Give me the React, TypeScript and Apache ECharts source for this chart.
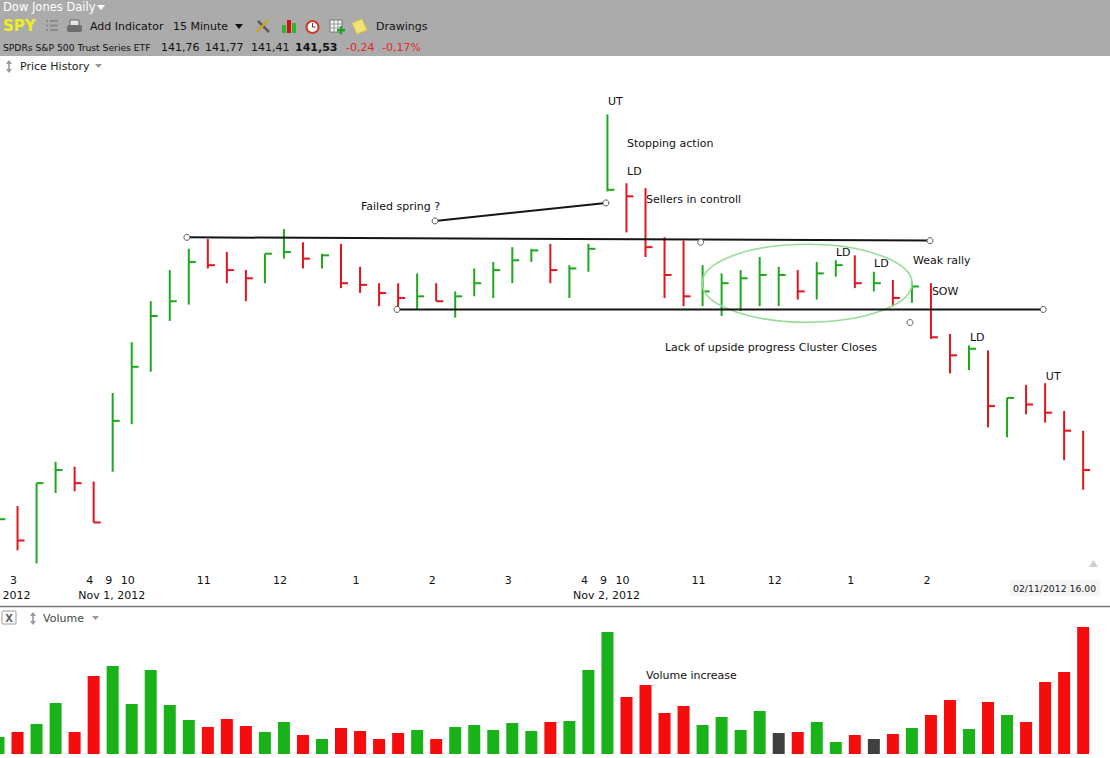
import React, { useEffect, useRef } from "react";
import * as echarts from "echarts";

// ---- Data (15-minute bars, SPY, Oct 31 14:45 -> Nov 2 16:00, 2012) ----
const highs = [141.32, 141.31, 141.45, 141.58, 141.55, 141.46, 142.0, 142.31, 142.56, 142.75, 142.88, 142.94, 142.86, 142.75, 142.85, 143.0, 142.92, 142.85, 142.91, 142.77, 142.67, 142.67, 142.73, 142.67, 142.62, 142.76, 142.8, 142.89, 142.88, 142.91, 142.78, 142.91, 143.7, 143.28, 143.25, 142.95, 142.93, 142.78, 142.73, 142.75, 142.83, 142.77, 142.75, 142.8, 142.81, 142.84, 142.74, 142.69, 142.68, 142.67, 142.36, 142.29, 142.26, 141.97, 142.05, 142.06, 141.89, 141.77];
const lows = [141.14, 141.04, 140.96, 141.39, 141.4, 141.21, 141.52, 141.81, 142.13, 142.44, 142.54, 142.76, 142.67, 142.56, 142.67, 142.82, 142.76, 142.76, 142.64, 142.61, 142.53, 142.51, 142.51, 142.56, 142.46, 142.59, 142.58, 142.67, 142.8, 142.67, 142.58, 142.74, 143.23, 142.98, 142.83, 142.58, 142.53, 142.53, 142.47, 142.5, 142.53, 142.53, 142.57, 142.57, 142.71, 142.64, 142.62, 142.53, 142.55, 142.33, 142.12, 142.14, 141.79, 141.73, 141.87, 141.82, 141.59, 141.41];
const closes = [141.23, 141.1, 141.45, 141.53, 141.45, 141.21, 141.83, 142.16, 142.47, 142.56, 142.8, 142.78, 142.75, 142.7, 142.85, 142.86, 142.82, 142.84, 142.67, 142.66, 142.61, 142.58, 142.59, 142.56, 142.59, 142.67, 142.75, 142.81, 142.87, 142.75, 142.76, 142.88, 143.24, 143.2, 142.89, 142.72, 142.59, 142.62, 142.67, 142.7, 142.72, 142.72, 142.62, 142.73, 142.78, 142.67, 142.67, 142.58, 142.65, 142.34, 142.23, 142.27, 141.92, 141.97, 141.93, 141.88, 141.77, 141.53];
// volume in millions of shares
const volumes = [1.36, 1.76, 2.4, 4.08, 1.76, 6.24, 7.04, 4.0, 6.72, 3.92, 2.72, 2.16, 2.8, 2.24, 1.76, 2.56, 1.52, 1.2, 2.08, 1.84, 1.2, 1.68, 1.92, 1.2, 2.16, 2.32, 1.92, 2.48, 1.84, 2.56, 2.64, 6.72, 9.76, 4.56, 5.52, 3.28, 3.84, 2.32, 2.96, 1.92, 3.44, 1.68, 1.76, 2.56, 0.96, 1.52, 1.2, 1.6, 2.08, 3.12, 4.32, 2.0, 4.16, 3.12, 2.56, 5.76, 6.56, 10.16];

// x-axis tick labels (bar index -> hour), and date labels
const tickIndex = [1, 5, 6, 7, 11, 15, 19, 23, 27, 31, 32, 33, 37, 41, 45, 49];
const tickHour = ["3", "4", "9", "10", "11", "12", "1", "2", "3", "4", "9", "10", "11", "12", "1", "2"];
const dateIndex = [1, 6, 32];
const dateText = ["2012", "Nov 1, 2012", "Nov 2, 2012"];

// drawings (bar index, price)
const resistanceLine = [[9.9, 142.95], [48.95, 142.93]];
const supportLine = [[20.94, 142.51], [54.9, 142.51]];
const springLine = [[22.94, 143.05], [31.92, 143.16]];
const looseMarkers = [[36.9, 142.92], [47.9, 142.43]];
const clusterCenter = [42.49, 142.67];
const clusterRadius = [5.52, 0.238];

const noteText = ["UT", "Stopping action", "LD", "Failed spring ?", "Sellers in controll", "LD", "LD", "Weak rally", "SOW", "Lack of upside progress Cluster Closes", "LD", "UT"];
const noteBar = [32.03, 33.03, 33.03, 19.05, 34.03, 44.01, 46.01, 48.06, 49.05, 35.02, 51.05, 55.04];
const notePrice = [143.78, 143.52, 143.35, 143.14, 143.18, 142.86, 142.79, 142.81, 142.62, 142.28, 142.34, 142.1];
const volumeNoteText = ["Volume increase"];
const volumeNoteBar = [34.03];
const volumeNoteValue = [6.32];

const quoteValues = ["141,76", "141,77", "141,41", "141,53"];
const quoteChange = ["-0,24", "-0,17%"];

const FONT = "DejaVu Sans";
const GREEN = "#1ea81e";
const RED = "#e3141c";
const VGREEN = "#19b319";
const VRED = "#f50d0d";
const VFLAT = "#404040";

function dirOf(i: number): number {
  if (i === 0) return 1;
  if (closes[i] > closes[i - 1]) return 1;
  if (closes[i] < closes[i - 1]) return -1;
  return 0;
}

function txt(x: number, y: number, text: string, o: any = {}) {
  return {
    type: "text",
    x,
    y,
    silent: true,
    style: {
      text,
      fill: o.fill || "#111",
      fontSize: o.size || 11,
      fontFamily: FONT,
      fontWeight: o.weight || "normal",
      verticalAlign: "middle",
      align: o.align || "left",
    },
  };
}

function tri(x: number, y: number, w: number, h: number, fill: string, up = false) {
  const pts = up
    ? [[x, y + h], [x + w, y + h], [x + w / 2, y]]
    : [[x, y], [x + w, y], [x + w / 2, y + h]];
  return { type: "polygon", silent: true, shape: { points: pts }, style: { fill } };
}

function updown(x: number, y: number) {
  return {
    type: "group",
    silent: true,
    children: [
      tri(x, y, 6, 4, "#999", true),
      { type: "rect", shape: { x: x + 2.2, y: y + 3, width: 1.6, height: 6 }, style: { fill: "#999" } },
      tri(x, y + 9, 6, 4, "#999"),
    ],
  };
}

function buildGraphic() {
  const g: any[] = [];
  g.push({ type: "rect", silent: true, shape: { x: 0, y: 0, width: 1110, height: 56 }, style: { fill: "#ababab" } });
  g.push(txt(3, 7, "Dow Jones Daily", { fill: "#ffffff", size: 11.5 }));
  g.push(tri(97, 5, 8, 5, "#ffffff"));
  g.push(txt(3, 26, "SPY", { fill: "#eeee22", size: 15, weight: "bold" }));
  // list icon
  [21, 25.5, 30].forEach((yy) => {
    g.push({ type: "rect", silent: true, shape: { x: 46, y: yy - 1, width: 2, height: 2 }, style: { fill: "#8a8a8a" } });
    g.push({ type: "rect", silent: true, shape: { x: 50, y: yy - 1, width: 8, height: 2 }, style: { fill: "#8a8a8a" } });
  });
  // printer icon
  g.push({ type: "rect", silent: true, shape: { x: 70, y: 20, width: 9, height: 6 }, style: { fill: "#e6e6e6", stroke: "#666", lineWidth: 1 } });
  g.push({ type: "rect", silent: true, shape: { x: 67, y: 25, width: 15, height: 7, r: 2 }, style: { fill: "#6d6d6d" } });
  g.push(txt(90, 26, "Add Indicator", { size: 11 }));
  g.push(txt(173, 26, "15 Minute", { size: 11 }));
  g.push(tri(235, 24, 8, 5, "#111"));
  // wrench / screwdriver
  g.push({ type: "line", silent: true, shape: { x1: 258, y1: 21, x2: 269, y2: 32 }, style: { stroke: "#5a5a5a", lineWidth: 2.5 } });
  g.push({ type: "line", silent: true, shape: { x1: 268, y1: 20, x2: 257, y2: 32 }, style: { stroke: "#c9a526", lineWidth: 2.5 } });
  // bar chart icon
  g.push({ type: "rect", silent: true, shape: { x: 282, y: 25, width: 4, height: 8 }, style: { fill: "#2cb82c" } });
  g.push({ type: "rect", silent: true, shape: { x: 287, y: 20, width: 4, height: 13 }, style: { fill: "#d01212" } });
  g.push({ type: "rect", silent: true, shape: { x: 292, y: 23, width: 4, height: 10 }, style: { fill: "#2cb82c" } });
  // clock icon
  g.push({ type: "circle", silent: true, shape: { cx: 312.5, cy: 27, r: 6 }, style: { fill: "#ffffff", stroke: "#d23a20", lineWidth: 2 } });
  g.push({ type: "line", silent: true, shape: { x1: 312.5, y1: 27, x2: 312.5, y2: 23 }, style: { stroke: "#444", lineWidth: 1 } });
  g.push({ type: "line", silent: true, shape: { x1: 312.5, y1: 27, x2: 315.5, y2: 27 }, style: { stroke: "#444", lineWidth: 1 } });
  // calendar icon
  g.push({ type: "rect", silent: true, shape: { x: 330, y: 20, width: 12, height: 12 }, style: { fill: "#f4f4f4", stroke: "#777", lineWidth: 1 } });
  [24, 28].forEach((yy) => g.push({ type: "line", silent: true, shape: { x1: 330, y1: yy, x2: 342, y2: yy }, style: { stroke: "#999", lineWidth: 1 } }));
  [334, 338].forEach((xx) => g.push({ type: "line", silent: true, shape: { x1: xx, y1: 20, x2: xx, y2: 32 }, style: { stroke: "#999", lineWidth: 1 } }));
  g.push({ type: "rect", silent: true, shape: { x: 337, y: 29, width: 8, height: 2.4 }, style: { fill: "#1f9e2a" } });
  g.push({ type: "rect", silent: true, shape: { x: 339.8, y: 26.2, width: 2.4, height: 8 }, style: { fill: "#1f9e2a" } });
  // note icon
  g.push({ type: "polygon", silent: true, shape: { points: [[352, 23], [362, 19], [367, 30], [357, 34]] }, style: { fill: "#f2e27a", stroke: "#d8c24a", lineWidth: 1 } });
  g.push(txt(376, 26, "Drawings", { size: 11 }));
  // quote row
  g.push(txt(3, 47, "SPDRs S&P 500 Trust Series ETF", { size: 9.2 }));
  g.push(txt(161, 47, quoteValues[0], { size: 11 }));
  g.push(txt(205, 47, quoteValues[1], { size: 11 }));
  g.push(txt(251, 47, quoteValues[2], { size: 11 }));
  g.push(txt(295, 47, quoteValues[3], { size: 11, weight: "bold" }));
  g.push(txt(346, 47, quoteChange[0], { size: 11, fill: "#e02828" }));
  g.push(txt(382, 47, quoteChange[1], { size: 11, fill: "#e02828" }));
  // price history header
  g.push(updown(6, 60));
  g.push(txt(20, 66, "Price History", { size: 11, fill: "#222" }));
  g.push(tri(95, 64, 7, 4, "#999"));
  // separator + volume header
  g.push({ type: "line", silent: true, shape: { x1: 0, y1: 606.5, x2: 1110, y2: 606.5 }, style: { stroke: "#7a7a7a", lineWidth: 1.5 } });
  g.push({ type: "rect", silent: true, shape: { x: 2, y: 611, width: 14, height: 13, r: 1 }, style: { fill: "#fff", stroke: "#9a9a9a", lineWidth: 1 } });
  g.push(txt(9, 618, "X", { size: 10, weight: "bold", fill: "#666", align: "center" }));
  g.push(updown(30, 612));
  g.push(txt(43, 618, "Volume", { size: 11, fill: "#444" }));
  g.push(tri(92, 616, 7, 4, "#999"));
  // timestamp + scroll arrow
  g.push({ type: "rect", silent: true, shape: { x: 1010, y: 580, width: 90, height: 16 }, style: { fill: "#f5f5f5" } });
  g.push(txt(1013, 588, "02/11/2012 16.00", { size: 9.3, fill: "#222" }));
  g.push(tri(1089, 560, 9, 7, "#cfcfcf", true));
  return g;
}

export default function App() {
  const ref = useRef<HTMLDivElement>(null);
  useEffect(() => {
    if (!ref.current) return;
    const chart = echarts.init(ref.current, undefined, { renderer: "svg" });

    const hlcData = highs.map((h, i) => [i, h, lows[i], closes[i]]);
    const volData = volumes.map((v, i) => {
      const d = dirOf(i);
      return { value: [i, v], itemStyle: { color: d > 0 ? VGREEN : d < 0 ? VRED : VFLAT } };
    });
    const noteData = noteText.map((_, i) => [noteBar[i], notePrice[i]]);
    const vNoteData = volumeNoteText.map((_, i) => [volumeNoteBar[i], volumeNoteValue[i]]);

    const lineSeries = (data: number[][]) => ({
      type: "line",
      xAxisIndex: 0,
      yAxisIndex: 0,
      data,
      symbol: "circle",
      symbolSize: 6,
      showSymbol: true,
      silent: true,
      z: 5,
      itemStyle: { color: "#ffffff", borderColor: "#555", borderWidth: 1 },
      lineStyle: { color: "#151515", width: 2 },
    });

    const xBase = {
      type: "value",
      min: -1,
      max: 58,
      interval: 1,
      axisLine: { show: false },
      axisTick: { show: false },
      splitLine: { show: false },
    };

    const option: any = {
      animation: false,
      backgroundColor: "#ffffff",
      textStyle: { fontFamily: FONT },
      grid: [
        { left: -20.53, right: 7.8, top: 80, height: 490, outerBoundsMode: "none" },
        { left: -20.53, right: 7.8, top: 620, height: 134, outerBoundsMode: "none" },
      ],
      xAxis: [
        {
          ...xBase,
          gridIndex: 0,
          axisLabel: {
            show: true,
            margin: 3,
            showMinLabel: true,
            showMaxLabel: true,
            formatter: (v: number) => {
              const i = Math.round(v);
              const h = tickIndex.indexOf(i);
              if (h < 0) return "";
              const d = dateIndex.indexOf(i);
              return d >= 0 ? `{h|${tickHour[h]}}\n{d|${dateText[d]}}` : `{h|${tickHour[h]}}`;
            },
            rich: {
              h: { fontSize: 11, fontFamily: FONT, color: "#111", lineHeight: 15, padding: [0, 8, 0, 0] },
              d: { fontSize: 11, fontFamily: FONT, color: "#111", lineHeight: 15, padding: [0, 2, 0, 0] },
            },
          },
        },
        { ...xBase, gridIndex: 1, axisLabel: { show: false } },
      ],
      yAxis: [
        { type: "value", gridIndex: 0, min: 140.92, max: 143.91, show: false, splitLine: { show: false } },
        { type: "value", gridIndex: 1, min: 0, max: 10.72, show: false, splitLine: { show: false } },
      ],
      graphic: buildGraphic(),
      series: [
        {
          type: "custom",
          name: "Price",
          xAxisIndex: 0,
          yAxisIndex: 0,
          data: hlcData,
          encode: { x: 0, y: [1, 2, 3] },
          silent: true,
          z: 3,
          renderItem: (params: any, api: any) => {
            const i = api.value(0);
            const hi = api.coord([i, api.value(1)]);
            const lo = api.coord([i, api.value(2)]);
            const cl = api.coord([i, api.value(3)]);
            const color = dirOf(params.dataIndex) < 0 ? RED : GREEN;
            return {
              type: "group",
              children: [
                { type: "line", shape: { x1: hi[0], y1: hi[1], x2: lo[0], y2: lo[1] }, style: { stroke: color, lineWidth: 2 } },
                { type: "line", shape: { x1: cl[0], y1: cl[1], x2: cl[0] + 7, y2: cl[1] }, style: { stroke: color, lineWidth: 2 } },
              ],
            };
          },
        },
        {
          type: "bar",
          name: "Volume",
          xAxisIndex: 1,
          yAxisIndex: 1,
          barWidth: 12,
          silent: true,
          data: volData,
        },
        lineSeries(resistanceLine),
        lineSeries(supportLine),
        lineSeries(springLine),
        {
          type: "scatter",
          xAxisIndex: 0,
          yAxisIndex: 0,
          data: looseMarkers,
          symbol: "circle",
          symbolSize: 6,
          silent: true,
          z: 5,
          itemStyle: { color: "#ffffff", borderColor: "#666", borderWidth: 1, opacity: 1 },
        },
        {
          type: "custom",
          xAxisIndex: 0,
          yAxisIndex: 0,
          data: [clusterCenter],
          silent: true,
          z: 4,
          renderItem: (params: any, api: any) => {
            const c = api.coord([api.value(0), api.value(1)]);
            const s = api.size([clusterRadius[0], clusterRadius[1]], [api.value(0), api.value(1)]);
            return {
              type: "ellipse",
              shape: { cx: c[0], cy: c[1], rx: s[0], ry: s[1] },
              style: { fill: "none", stroke: "#97dd97", lineWidth: 1.6 },
            };
          },
        },
        {
          type: "custom",
          xAxisIndex: 0,
          yAxisIndex: 0,
          data: noteData,
          silent: true,
          z: 6,
          renderItem: (params: any, api: any) => {
            const p = api.coord([api.value(0), api.value(1)]);
            return {
              type: "text",
              x: p[0],
              y: p[1],
              style: { text: noteText[params.dataIndex], fill: "#111", fontSize: 11, fontFamily: FONT, verticalAlign: "middle", align: "left" },
            };
          },
        },
        {
          type: "custom",
          xAxisIndex: 1,
          yAxisIndex: 1,
          data: vNoteData,
          silent: true,
          z: 6,
          renderItem: (params: any, api: any) => {
            const p = api.coord([api.value(0), api.value(1)]);
            return {
              type: "text",
              x: p[0],
              y: p[1],
              style: { text: volumeNoteText[params.dataIndex], fill: "#111", fontSize: 11, fontFamily: FONT, verticalAlign: "middle", align: "left" },
            };
          },
        },
      ],
    };

    chart.setOption(option);
    return () => chart.dispose();
  }, []);

  return (
    <div
      ref={ref}
      style={{ position: "absolute", left: 0, top: 0, width: 1110, height: 758, background: "#fff" }}
    />
  );
}
